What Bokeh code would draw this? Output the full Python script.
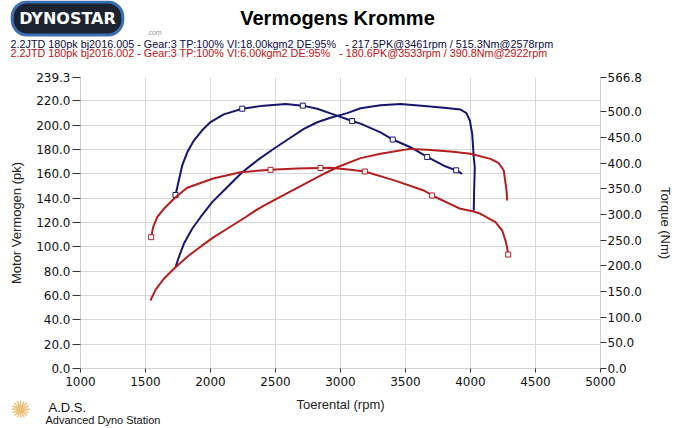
from bokeh.plotting import figure
from bokeh.models import Range1d, LinearAxis, FixedTicker, NumeralTickFormatter, Label
from bokeh.layouts import column, row
from bokeh.embed import file_html
from bokeh.resources import INLINE

title_text = "Vermogens Kromme"
run1_text = "2.2JTD 180pk bj2016.005 - Gear:3 TP:100% VI:18.00kgm2 DE:95%\u00a0\u00a0\u00a0- 217.5PK@3461rpm / 515.3Nm@2578rpm"
run2_text = "2.2JTD 180pk bj2016.002 - Gear:3 TP:100% VI:6.00kgm2 DE:95%\u00a0\u00a0\u00a0- 180.6PK@3533rpm / 390.8Nm@2922rpm"
x_title = "Toerental (rpm)"
left_title = "Motor Vermogen (pk)"
right_title = "Torque (Nm)"

x_ticks = [1000, 1500, 2000, 2500, 3000, 3500, 4000, 4500, 5000]
power_ticks = [0, 20, 40, 60, 80, 100, 120, 140, 160, 180, 200, 220, 239.3]
torque_ticks = [0, 50, 100, 150, 200, 250, 300, 350, 400, 450, 500, 566.8]

# run 1 (blue) torque, Nm
blue_torque_rpm = [1731, 1756, 1782, 1821, 1872, 1936, 2000, 2102, 2244, 2410, 2578, 2710,
                   2821, 2923, 3090, 3154, 3308, 3402, 3538, 3667, 3795, 3890, 3936]
blue_torque_nm = [338, 366, 395, 421, 444, 464, 480, 495, 506, 512, 515.3, 512,
                  506, 497, 482, 477, 460, 446, 431, 412, 395, 386, 379]
blue_torque_marks = [0, 8, 11, 14, 17, 19, 21]

# run 1 (blue) power, pk
blue_power_rpm = [1731, 1756, 1795, 1859, 1923, 2013, 2128, 2244, 2359, 2487, 2603, 2718, 2821,
                  2923, 3051, 3154, 3308, 3461, 3667, 3795, 3923, 3969, 3995, 4013, 4025, 4033,
                  4028, 4025]
blue_power_pk = [83.3, 91.5, 102.5, 114.9, 124.4, 136.8, 149.1, 161.4, 171.1, 180.7, 188.9, 197.1,
                 202.5, 206.2, 210.0, 214.0, 216.5, 217.5, 215.7, 214.4, 213.0, 210.0, 203.9, 193.0,
                 173.8, 165.5, 146.0, 130.0]

# run 2 (red) torque, Nm
red_torque_rpm = [1544, 1559, 1590, 1641, 1731, 1821, 2020, 2231, 2462, 2667, 2846, 2922, 3077,
                  3187, 3420, 3641, 3705, 3923, 4025, 4077, 4192, 4244, 4269, 4282, 4290]
red_torque_nm = [255.8, 275.2, 294.7, 311.0, 333.7, 352.0, 370.0, 382.4, 387.0, 389.6, 390.5, 390.8,
                 387.0, 383.7, 366.0, 346.7, 337.0, 311.0, 305.8, 301.3, 285.0, 268.8, 249.3, 235.0,
                 222.0]
red_torque_marks = [0, 8, 10, 13, 16, 24]

# run 2 (red) power, pk
red_power_rpm = [1538, 1577, 1641, 1718, 1833, 1936, 2025, 2128, 2269, 2333, 2410, 2667, 2897,
                 2974, 3154, 3308, 3533, 3667, 3846, 4000, 4154, 4218, 4256, 4277, 4282]
red_power_pk = [55.9, 64.7, 73.8, 82.0, 92.9, 101.2, 108.0, 114.9, 124.4, 129.0, 134.0, 148.6,
                161.4, 165.5, 173.0, 176.6, 180.6, 179.8, 178.5, 176.6, 172.4, 168.8, 162.8, 146.4,
                138.2]

BLUE = "#16166e"
RED = "#b41e1e"
GRID = "#d8d8d8"
W = 680
HEAD_H = 69
FOOT_H = 34


def blank(h):
    f = figure(width=W, height=h, x_range=Range1d(0, W), y_range=Range1d(h, 0),
               min_border=0, output_backend="svg", toolbar_location=None,
               x_axis_location=None, y_axis_location=None,
               background_fill_color="white", border_fill_color="white")
    f.outline_line_color = None
    f.xgrid.visible = False
    f.ygrid.visible = False
    return f


def lab(fig, text, x, y, **kw):
    fig.add_layout(Label(text=text, x=x, y=y, text_baseline="middle", **kw))


# ---------- header ----------
head = blank(HEAD_H)
lab(head, "DYNOSTAR", 67, 18, text_font="DejaVu Sans", text_font_size="16px", text_font_style="bold",
    text_align="center", text_color="white",
    background_fill_color="#1b2230", border_line_color="#3d6db5", border_line_width=3,
    border_radius=15, padding=7)
lab(head, ".com", 146, 32, text_font="Liberation Sans", text_font_size="7px", text_color="#999999")
lab(head, title_text, 337, 17, text_font="Liberation Sans", text_font_size="20px",
    text_font_style="bold", text_align="center", text_color="#000000")
lab(head, run1_text, 10, 43, text_font="Liberation Sans", text_font_size="10.8px", text_color="#0a0a40")
lab(head, run2_text, 10, 52, text_font="Liberation Sans", text_font_size="10.8px", text_color="#c01010")

# ---------- main chart ----------
p = figure(frame_width=520, frame_height=291,
           min_border_left=80, min_border_right=80, min_border_top=8, min_border_bottom=24,
           x_range=Range1d(1000, 5000), y_range=Range1d(0, 239.3),
           output_backend="svg", toolbar_location=None, background_fill_color="white",
           border_fill_color="white")
p.outline_line_color = None
p.extra_y_ranges = {"torque": Range1d(0, 566.8)}

font = "DejaVu Sans"


def style_axis(ax, ticks, tick_out):
    ax.ticker = FixedTicker(ticks=ticks)
    ax.axis_line_color = "#d0d0d0"
    ax.major_tick_line_color = "#333333"
    ax.major_tick_in = 0
    ax.major_tick_out = tick_out
    ax.minor_tick_line_color = None
    ax.major_label_text_font = font
    ax.major_label_text_font_size = "12px"
    ax.major_label_text_color = "#111111"
    ax.axis_label_text_font = "Liberation Sans"
    ax.axis_label_text_font_size = "13px"
    ax.axis_label_text_font_style = "normal"
    ax.axis_label_text_color = "#222222"


xa = p.xaxis[0]
style_axis(xa, x_ticks, 4)
xa.major_label_standoff = 4

ya = p.yaxis[0]
style_axis(ya, power_ticks, 8)
ya.formatter = NumeralTickFormatter(format="0.0")
ya.major_label_standoff = 2
ya.axis_label = left_title
ya.axis_label_standoff = 9

ra = LinearAxis(y_range_name="torque")
style_axis(ra, torque_ticks, 6)
ra.formatter = NumeralTickFormatter(format="0.0")
ra.major_label_standoff = 1
ra.axis_label = right_title
ra.axis_label_standoff = 13
p.add_layout(ra, "right")

p.xgrid.ticker = FixedTicker(ticks=x_ticks)
p.ygrid.ticker = FixedTicker(ticks=power_ticks)
p.xgrid.grid_line_color = GRID
p.ygrid.grid_line_color = GRID

p.line(blue_power_rpm, blue_power_pk, line_color=BLUE, line_width=2)
p.line(blue_torque_rpm, blue_torque_nm, line_color=BLUE, line_width=2, y_range_name="torque")
p.scatter([blue_torque_rpm[i] for i in blue_torque_marks], [blue_torque_nm[i] for i in blue_torque_marks],
          marker="square", size=5, line_color=BLUE, fill_color="white", line_width=1,
          y_range_name="torque")

p.line(red_power_rpm, red_power_pk, line_color=RED, line_width=2)
p.line(red_torque_rpm, red_torque_nm, line_color=RED, line_width=2, y_range_name="torque")
p.scatter([red_torque_rpm[i] for i in red_torque_marks], [red_torque_nm[i] for i in red_torque_marks],
          marker="square", size=5, line_color=RED, fill_color="white", line_width=1,
          y_range_name="torque")

# ---------- footer ----------
foot = blank(FOOT_H)
lab(foot, x_title, 340, 12, text_font="Liberation Sans", text_font_size="13px",
    text_align="center", text_color="#222222")
lab(foot, "\u273a", 20, 17, text_font="DejaVu Sans", text_font_size="24px", text_align="center",
    text_color="#ecc27a")
lab(foot, "A.D.S.", 48, 15, text_font="Liberation Sans", text_font_size="13px", text_color="#111111")
lab(foot, "Advanced Dyno Station", 45, 27, text_font="Liberation Sans", text_font_size="11px",
    text_color="#111111")

layout = column(row(head), p, row(foot), spacing=0)
open("out.html", "w").write(file_html(layout, INLINE))
